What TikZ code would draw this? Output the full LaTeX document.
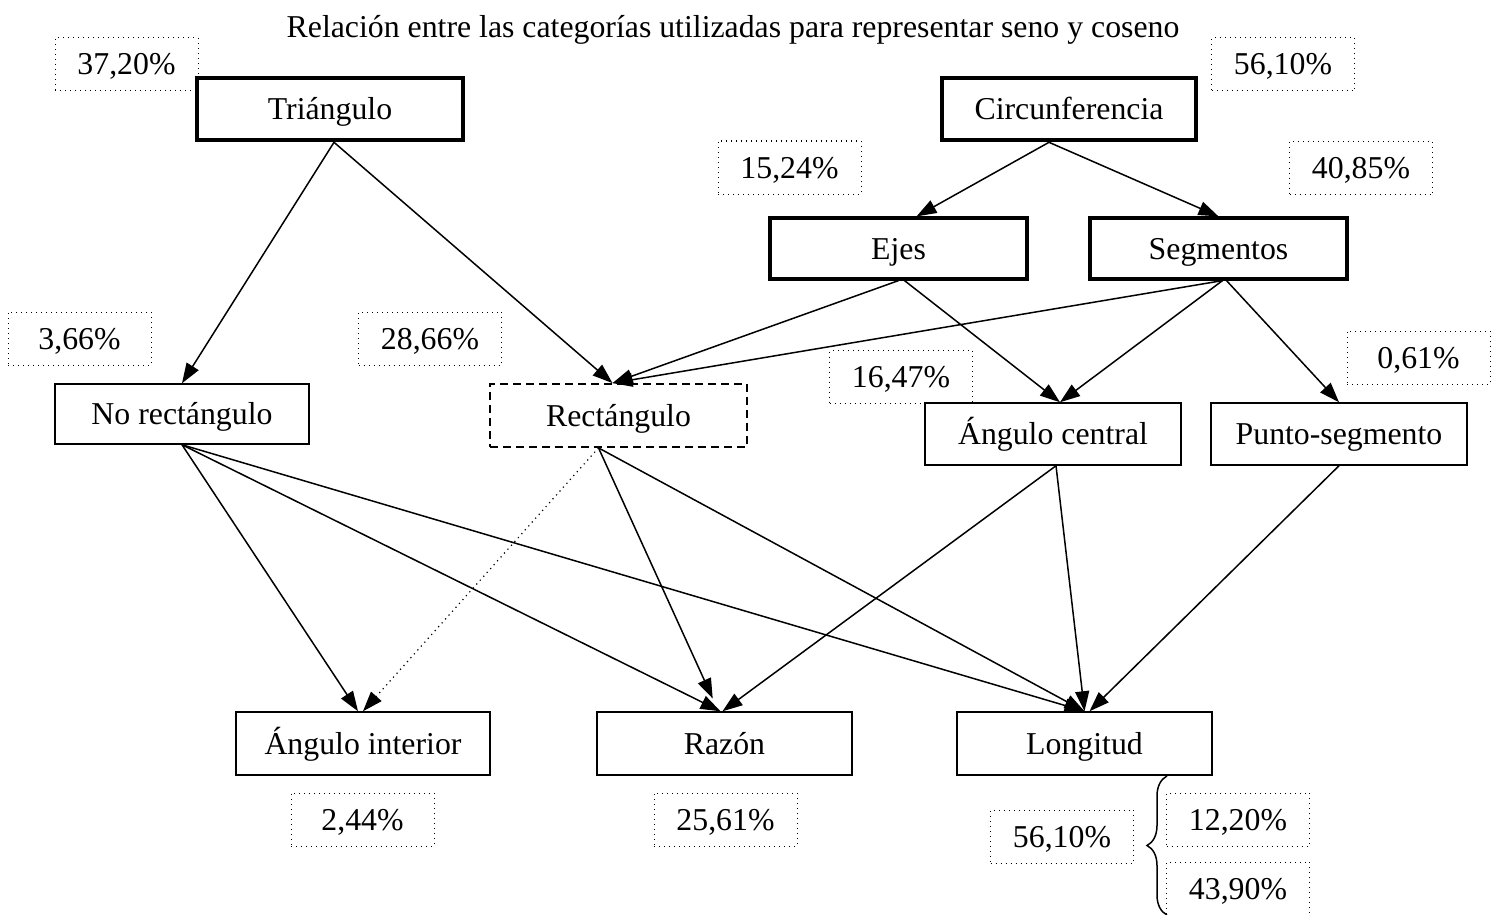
\documentclass[tikz,border=0pt]{standalone}
\usepackage{fontspec}
\setmainfont{Liberation Serif}
\usetikzlibrary{arrows.meta,decorations.pathreplacing}
\begin{document}
\begin{tikzpicture}[x=0.5pt,y=-0.5pt,
  every node/.style={font=\fontsize{15.9}{18}\selectfont, inner sep=0pt, text height=12pt, text depth=1.5pt},
  mainbox/.style={draw, line width=2.3pt, rectangle},
  midbox/.style={draw, line width=1.6pt, rectangle},
  thinbox/.style={draw, line width=0.75pt, rectangle},
  dashbox/.style={draw, line width=0.9pt, dash pattern=on 4pt off 2.5pt, rectangle},
  pct/.style={draw, line width=0.5pt, dotted, rectangle, minimum width=71.5pt, minimum height=26.5pt},
  arr/.style={line width=0.75pt, -{Triangle[length=10pt,width=7pt]}},
  dotarr/.style={line width=0.6pt, dotted, -{Triangle[length=10pt,width=7pt]}}
]
\useasboundingbox (0,0) rectangle (1493,915);

\node (title) at (733,27) {Relación entre las categorías utilizadas para representar seno y coseno};

% main boxes
\node[mainbox, minimum width=133pt, minimum height=31pt] (tri) at (330,109) {Triángulo};
\node[mainbox, minimum width=127pt, minimum height=31pt] (circ) at (1069,109) {Circunferencia};
\node[midbox, minimum width=128.5pt, minimum height=30.5pt] (ejes) at (898.5,248.5) {Ejes};
\node[midbox, minimum width=128.5pt, minimum height=30.5pt] (seg) at (1218.5,248.5) {Segmentos};
\node[thinbox, minimum width=127pt, minimum height=30pt] (norect) at (182,414) {No rectángulo};
\node[dashbox, minimum width=128.5pt, minimum height=31.5pt] (rect) at (618.5,415.5) {Rectángulo};
\node[thinbox, minimum width=128pt, minimum height=31pt] (acen) at (1053,434) {Ángulo central};
\node[thinbox, minimum width=128pt, minimum height=31pt] (pseg) at (1339,434) {Punto-segmento};
\node[thinbox, minimum width=127pt, minimum height=31.5pt] (aint) at (363,743.5) {Ángulo interior};
\node[thinbox, minimum width=127.5pt, minimum height=31.5pt] (razon) at (724.5,743.5) {Razón};
\node[thinbox, minimum width=127.5pt, minimum height=31.5pt] (long) at (1084.5,743.5) {Longitud};

% percentage boxes
\node[pct] (p3720) at (126.5,64.5) {37,20\%};
\node[pct] (p5610a) at (1283,64.5) {56,10\%};
\node[pct] (p1524) at (789.5,167.5) {15,24\%};
\node[pct] (p4085) at (1361,168) {40,85\%};
\node[pct] (p366) at (79.5,338.5) {3,66\%};
\node[pct] (p2866) at (430,338.5) {28,66\%};
\node[pct] (p061) at (1418.5,357.5) {0,61\%};
\node[pct] (p1647) at (901,377) {16,47\%};
\node[pct] (p244) at (362.5,819.5) {2,44\%};
\node[pct] (p2561) at (725.5,819.5) {25,61\%};
\node[pct] (p5610b) at (1062,836.5) {56,10\%};
\node[pct] (p1220) at (1238,819.5) {12,20\%};
\node[pct] (p4390) at (1238,888.5) {43,90\%};

% brace
\coordinate (bt) at (1167,776);
\coordinate (bb) at (1167,915);
\draw[line width=0.75pt, decorate, decoration={brace, amplitude=10pt, mirror}] (bt) -- (bb);

% connectors
\draw[arr] ([xshift=2pt]tri.south) -- (norect.north);
\draw[arr] ([xshift=2pt]tri.south) -- ([xshift=-3pt]rect.north);
\draw[arr] ([xshift=-10pt]circ.south) -- ([xshift=9pt]ejes.north);
\draw[arr] ([xshift=-10pt]circ.south) -- (seg.north);
\draw[arr] (ejes.south) -- ([xshift=-3pt]rect.north);
\draw[arr] ([xshift=3pt]ejes.south) -- ([xshift=3.5pt]acen.north);
\draw[arr] ([xshift=2pt]seg.south) -- ([xshift=-3pt]rect.north);
\draw[arr] ([xshift=2pt]seg.south) -- ([xshift=3.5pt]acen.north);
\draw[arr] ([xshift=4pt]seg.south) -- (pseg.north);
\draw[arr] (norect.south) -- ([xshift=-2.5pt]aint.north);
\draw[arr] (norect.south) -- ([xshift=-2pt]razon.north);
\draw[arr] (norect.south) -- (long.north);
\draw[dotarr] ([xshift=-10pt]rect.south) -- (aint.north);
\draw[arr, shorten >=7pt] ([xshift=-10pt]rect.south) -- ([xshift=-3pt]razon.north);
\draw[arr] ([xshift=-10pt]rect.south) -- (long.north);
\draw[arr] ([xshift=1.5pt]acen.south) -- ([xshift=-1pt]razon.north);
\draw[arr] ([xshift=1.5pt]acen.south) -- (long.north);
\draw[arr] (pseg.south) -- ([xshift=2.5pt]long.north);
\end{tikzpicture}
\end{document}
